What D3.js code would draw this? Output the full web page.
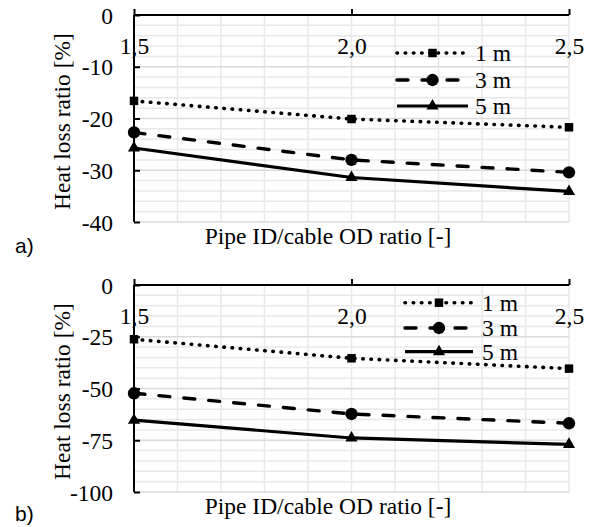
<!DOCTYPE html>
<html>
<head>
<meta charset="utf-8">
<script src="https://cdn.jsdelivr.net/npm/d3@7"></script>
<style>
  body { margin: 0; background: #fff; }
  svg { display: block; }
  .serif { font-family: 'Liberation Serif', 'Times New Roman', Times, serif; font-size: 23.5px; fill: #000; }
  .tick text { font-family: 'Liberation Serif', 'Times New Roman', Times, serif; font-size: 23.5px; fill: #000; }
  .panel-label { font-family: 'Liberation Sans', Arial, sans-serif; font-size: 21px; fill: #000; }
</style>
</head>
<body>
<div id="chart"></div>
<script>
// Data
const ratios = [1.5, 2.0, 2.5];
const seriesNames = ['1 m', '3 m', '5 m'];

// panel a) values, % heat loss ratio
const lossA1m = [-16.6, -20.1, -21.7];
const lossA3m = [-22.7, -28.0, -30.4];
const lossA5m = [-25.7, -31.4, -34.1];

// panel b)
const lossB1m = [-26.2, -35.4, -40.4];
const lossB3m = [-52.3, -62.3, -66.8];
const lossB5m = [-65.3, -73.9, -77.0];

const yTicksA = [0, -10, -20, -30, -40];
const yTicksB = [0, -25, -50, -75, -100];

const width = 590, height = 527;

const svg = d3.select('#chart').append('svg')
  .attr('width', width)
  .attr('height', height);

// line style + marker per series
const styles = [
  { dash: '0.5 7.7', cap: 'round', w: 3.6, symbol: d3.symbolSquare, size: 72 },
  { dash: '11 14', cap: 'round', w: 3.4, symbol: d3.symbolCircle, size: 120 },
  { dash: null, cap: 'butt', w: 3.2, symbol: d3.symbolTriangle, size: 64 }
];

function drawPanel(opts) {
  const { top, bottom, ticks, minorStep, series, label, labelY, legendX, legendRows, textX } = opts;
  const left = 134, right = 569;

  const x = d3.scaleLinear().domain([1.5, 2.5]).range([left, right]);
  const y = d3.scaleLinear().domain([0, d3.min(ticks)]).range([top, bottom]);

  const g = svg.append('g');

  // gridlines
  const grid = g.append('g');
  grid.selectAll('line.vx')
    .data(d3.range(16, 26).map(d => d / 10))
    .enter().append('line')
    .attr('x1', d => x(d)).attr('x2', d => x(d))
    .attr('y1', top).attr('y2', bottom)
    .attr('stroke', '#e8e8e8').attr('stroke-width', 1.5);
  const minor = d3.range(0, d3.min(ticks) - 0.001, -minorStep);
  grid.selectAll('line.hy')
    .data(minor.slice(1))
    .enter().append('line')
    .attr('x1', left).attr('x2', right)
    .attr('y1', d => y(d)).attr('y2', d => y(d))
    .attr('stroke', d => ticks.includes(d) ? '#dadada' : '#e8e8e8')
    .attr('stroke-width', 1.5);

  // series
  const line = d3.line().x((d, i) => x(ratios[i])).y(d => y(d));
  series.forEach((vals, k) => {
    const s = styles[k];
    g.append('path')
      .datum(vals)
      .attr('d', line)
      .attr('fill', 'none')
      .attr('stroke', '#000')
      .attr('stroke-width', s.w)
      .attr('stroke-linecap', s.cap)
      .attr('stroke-dasharray', s.dash);
    g.selectAll(null)
      .data(vals)
      .enter().append('path')
      .attr('d', d3.symbol().type(s.symbol).size(s.size))
      .attr('transform', (d, i) => `translate(${x(ratios[i])},${y(d)})`)
      .attr('fill', '#000');
  });

  // axes
  const xAxis = g.append('g')
    .attr('transform', `translate(0,${top})`)
    .call(d3.axisTop(x).tickValues(ratios).tickSize(6)
      .tickFormat(d => d3.format('.1f')(d).replace('.', ',')));
  xAxis.selectAll('text').attr('y', 38.5).attr('dy', null);

  const yAxis = g.append('g')
    .attr('transform', `translate(${left},0)`)
    .call(d3.axisLeft(y).tickValues(ticks).tickSize(-6).tickPadding(21)
      .tickFormat(d => d === 0 ? '0' : '-' + Math.abs(d)));
  yAxis.selectAll('text').attr('dy', '0.34em');

  [xAxis, yAxis].forEach(a => {
    a.attr('font-family', null).attr('font-size', null);
    a.select('.domain').attr('stroke', '#000').attr('stroke-width', 2);
    a.selectAll('.tick line').attr('stroke', '#000').attr('stroke-width', 2);
  });
  xAxis.select('.domain').attr('d', `M${left},0H${right}`);
  yAxis.select('.domain').attr('d', `M0,${top}V${bottom}`);

  // axis titles
  g.append('text')
    .attr('class', 'serif')
    .attr('transform', `translate(70,${(top + bottom) / 2 + 3}) rotate(-90)`)
    .attr('text-anchor', 'middle')
    .text('Heat loss ratio [%]');
  g.append('text')
    .attr('class', 'serif')
    .attr('x', 328)
    .attr('y', bottom + 22)
    .attr('text-anchor', 'middle')
    .text('Pipe ID/cable OD ratio [-]');

  // panel letter
  g.append('text')
    .attr('class', 'panel-label')
    .attr('x', 15).attr('y', labelY)
    .text(label);

  // legend
  const lg = g.append('g');
  seriesNames.forEach((name, k) => {
    const s = styles[k];
    const ly = legendRows[k];
    lg.append('line')
      .attr('x1', legendX[0]).attr('x2', legendX[1])
      .attr('y1', ly).attr('y2', ly)
      .attr('stroke', '#000')
      .attr('stroke-width', s.w)
      .attr('stroke-linecap', s.cap)
      .attr('stroke-dasharray', s.dash);
    lg.append('path')
      .attr('d', d3.symbol().type(s.symbol).size(s.size))
      .attr('transform', `translate(${(legendX[0] + legendX[1]) / 2},${ly})`)
      .attr('fill', '#000');
    lg.append('text')
      .attr('class', 'serif')
      .attr('x', textX).attr('y', ly + 8)
      .text(name);
  });
}

drawPanel({
  top: 15, bottom: 222, ticks: yTicksA, minorStep: 2,
  series: [lossA1m, lossA3m, lossA5m],
  label: 'a)', labelY: 253,
  legendX: [397, 468], legendRows: [53, 80, 106], textX: 475
});

drawPanel({
  top: 285, bottom: 492, ticks: yTicksB, minorStep: 5,
  series: [lossB1m, lossB3m, lossB5m],
  label: 'b)', labelY: 521,
  legendX: [405, 473], legendRows: [302.7, 328, 351.7], textX: 482
});
</script>
</body>
</html>
